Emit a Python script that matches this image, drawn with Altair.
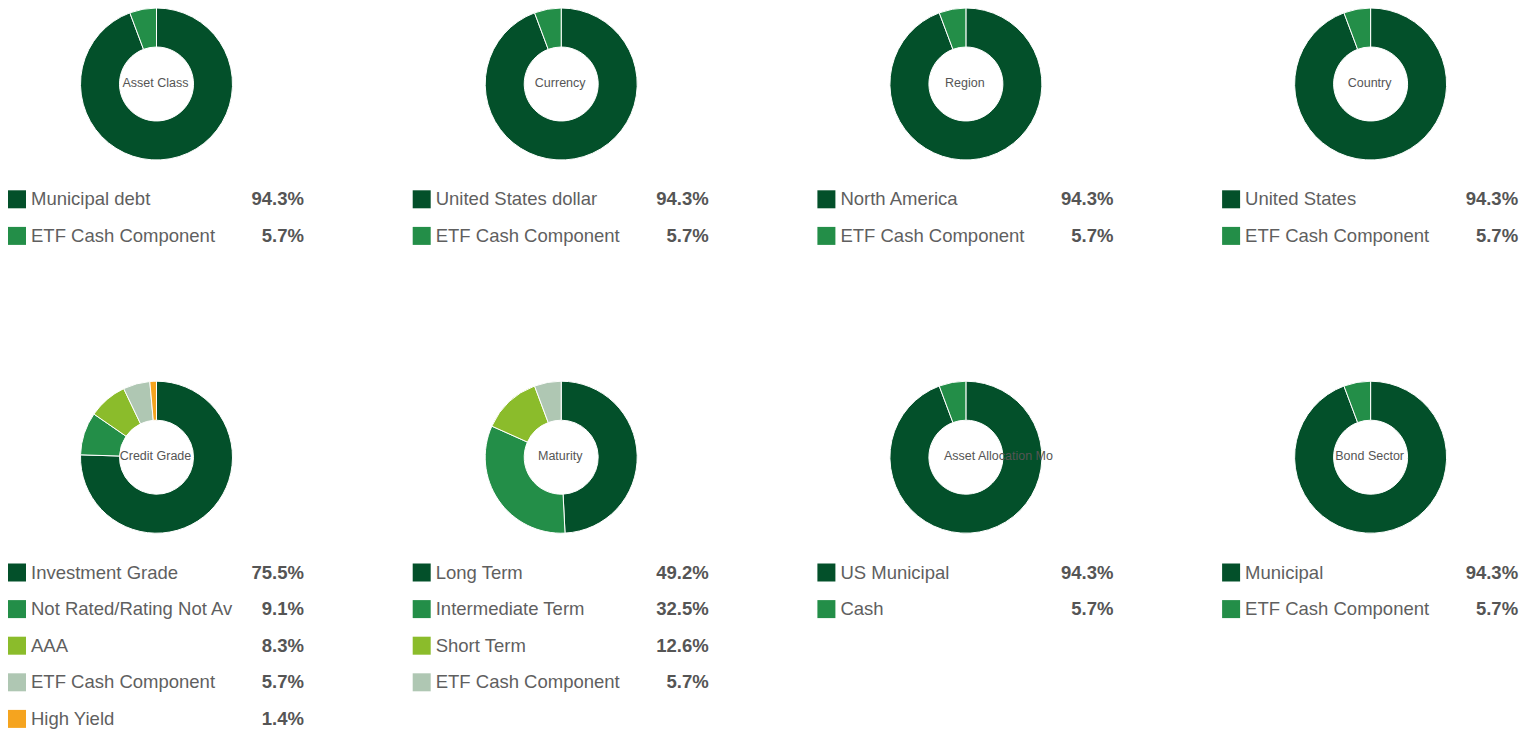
import altair as alt
import pandas as pd

# ---- data -------------------------------------------------------------
titles = ["Asset Class", "Currency", "Region", "Country",
          "Credit Grade", "Maturity", "Asset Allocation Model", "Bond Sector"]

names_asset_class = ["Municipal debt", "ETF Cash Component"]
values_asset_class = [94.3, 5.7]
names_currency = ["United States dollar", "ETF Cash Component"]
values_currency = [94.3, 5.7]
names_region = ["North America", "ETF Cash Component"]
values_region = [94.3, 5.7]
names_country = ["United States", "ETF Cash Component"]
values_country = [94.3, 5.7]
names_credit = ["Investment Grade", "Not Rated/Rating Not Av", "AAA",
                "ETF Cash Component", "High Yield"]
values_credit = [75.5, 9.1, 8.3, 5.7, 1.4]
names_maturity = ["Long Term", "Intermediate Term", "Short Term", "ETF Cash Component"]
values_maturity = [49.2, 32.5, 12.6, 5.7]
names_allocation = ["US Municipal", "Cash"]
values_allocation = [94.3, 5.7]
names_sector = ["Municipal", "ETF Cash Component"]
values_sector = [94.3, 5.7]

all_names = [names_asset_class, names_currency, names_region, names_country,
             names_credit, names_maturity, names_allocation, names_sector]
all_values = [values_asset_class, values_currency, values_region, values_country,
              values_credit, values_maturity, values_allocation, values_sector]

colors = ["#03502A", "#238E48", "#8BBC2B", "#AFC7B3", "#F5A41F"]

# ---- layout -----------------------------------------------------------
FONT = "Liberation Sans"
W = 297
DH = 152
ROW = 36.6
LH = ROW * 4.75
GAP_IN = 19
COL_SP = 107.7
ROW_SP = 24.2

color_enc = alt.Color("idx:N", scale=alt.Scale(domain=[0, 1, 2, 3, 4], range=colors), legend=None)
yscale = alt.Scale(domain=[4.25, -0.5], nice=False, zero=False)


def panel(i):
    names = all_names[i]
    vals = all_values[i]
    df = pd.DataFrame({
        "idx": list(range(len(names))),
        "name": names,
        "value": vals,
        "pct": [f"{v:.1f}%" for v in vals],
    })
    base = alt.Chart(df)
    arc = base.mark_arc(innerRadius=37, outerRadius=76, stroke="white", strokeWidth=1).encode(
        theta=alt.Theta("value:Q", stack=True),
        order=alt.Order("idx:Q"),
        color=color_enc,
    )
    tdf = pd.DataFrame({"t": [titles[i]]})
    long_title = len(titles[i]) > 14
    if long_title:
        txt = alt.Chart(tdf).mark_text(
            font=FONT, fontSize=12.5, color="#555555", align="left", baseline="middle",
            limit=112, ellipsis="\u200b",
        ).encode(text="t:N", x=alt.value(W / 2 - 22), y=alt.value(DH / 2 - 1))
    else:
        txt = alt.Chart(tdf).mark_text(
            font=FONT, fontSize=12.5, color="#555555", align="center", baseline="middle",
        ).encode(text="t:N", x=alt.value(W / 2 - 1), y=alt.value(DH / 2 - 1))
    donut = alt.layer(arc, txt).properties(width=W, height=DH)

    y_enc = alt.Y("idx:Q", scale=yscale, axis=None)
    sw = base.mark_square(size=324, opacity=1, strokeWidth=0).encode(
        x=alt.value(9), y=y_enc, color=color_enc)
    lab = base.mark_text(font=FONT, fontSize=18.5, color="#5f5f5f", align="left",
                         baseline="middle").encode(x=alt.value(23), y=y_enc, text="name:N")
    pct = base.mark_text(font=FONT, fontSize=18.5, fontWeight="bold", color="#555555",
                         align="right", baseline="middle").encode(
        x=alt.value(W - 1), y=y_enc, text="pct:N")
    legend = alt.layer(sw, lab, pct).properties(width=W, height=LH)
    return alt.vconcat(donut, legend, spacing=GAP_IN)


row1 = alt.hconcat(*[panel(i) for i in range(4)], spacing=COL_SP)
row2 = alt.hconcat(*[panel(i) for i in range(4, 8)], spacing=COL_SP)
chart = alt.vconcat(row1, row2, spacing=ROW_SP).properties(
    padding={"top": -2, "left": 0, "right": 0, "bottom": 0}
).configure(font=FONT).configure_view(strokeWidth=0)

chart.save("out.html", embed_options={"renderer": "svg", "actions": False})
